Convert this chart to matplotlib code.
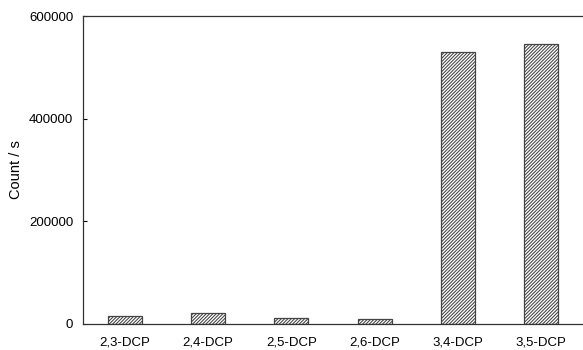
import numpy as np
import matplotlib
matplotlib.use('Agg')
from matplotlib import pyplot as plt

plt.rcParams['font.family'] = ['Liberation Sans', 'DejaVu Sans']
plt.rcParams['hatch.linewidth'] = 0.75
plt.rcParams['hatch.color'] = '#222222'

# 各異構物的計數率
categories = ['2,3-DCP', '2,4-DCP', '2,5-DCP', '2,6-DCP', '3,4-DCP', '3,5-DCP']
counts = [16000, 21500, 11500, 9000, 530000, 545000]
y_ticks = [0, 200000, 400000, 600000]

fig = plt.figure(figsize=(5.83, 3.5), dpi=100)
ax = fig.add_axes([0.1424, 0.0743, 0.8576, 0.8797])

x = np.arange(len(categories))
ax.bar(x, counts, width=0.41, color='white', edgecolor='#444444',
       linewidth=0.9, hatch='//////////')

ax.set_xlim(-0.5, len(categories) - 0.5)
ax.set_ylim(0, 600000)
ax.set_xticks(x)
ax.set_xticklabels(categories, fontsize=9.5)
ax.set_yticks(y_ticks)
ax.set_yticklabels([str(v) for v in y_ticks], fontsize=9.5)
ax.tick_params(axis='y', direction='in', length=3, width=0.8, pad=7)
ax.tick_params(axis='x', length=0, pad=9)
ax.set_ylabel('Count / s', fontsize=10.5, labelpad=4)

for side in ['left', 'bottom', 'top']:
    ax.spines[side].set_linewidth(0.9)
    ax.spines[side].set_color('#333333')
ax.spines['right'].set_visible(False)

fig.savefig('out.png', dpi=100)
